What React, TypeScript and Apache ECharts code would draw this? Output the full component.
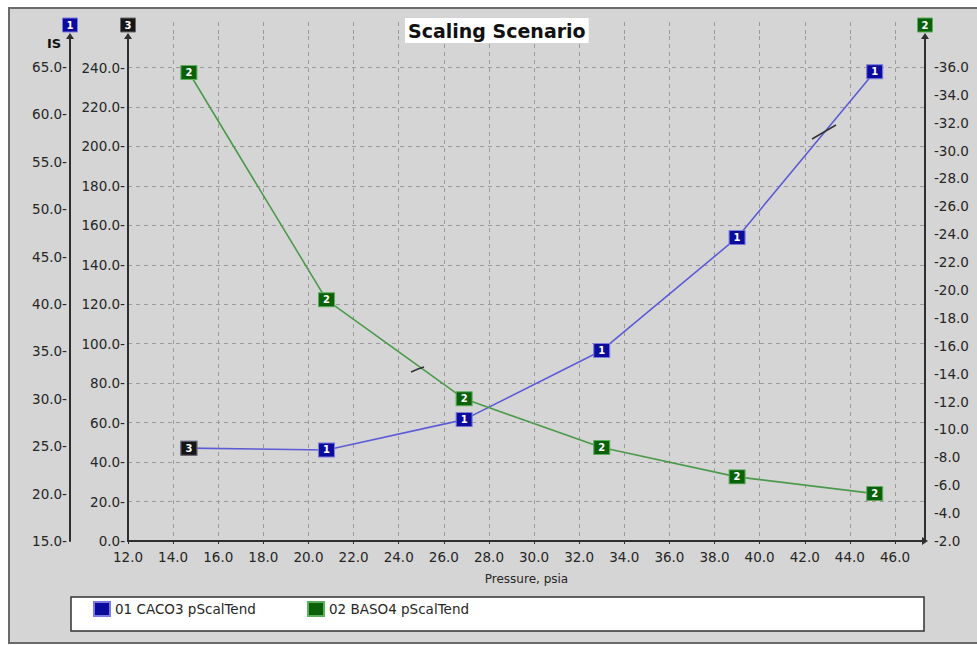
import React, { useEffect, useRef } from "react";
import * as echarts from "echarts";

// Pressure sweep (psia) shared by both scaling curves
const pressure = [14.7, 20.8, 26.9, 33.0, 39.0, 45.1];
// 01 CACO3 pScalTend, read on the "IS" axis (axis 1)
const caco3Tend = [24.8, 24.6, 27.8, 35.1, 47.0, 64.5];
// 02 BASO4 pScalTend, read on the right axis (axis 2)
const baso4Tend = [35.6, 19.3, 12.2, 8.7, 6.6, 5.4];
// Single point shown on axis 3
const axis3Pressure = [14.7];
const axis3Values = [47.0];

const seriesNames = ["01 CACO3 pScalTend", "02 BASO4 pScalTend"];
const chartTitle = "Scaling Scenario";
const xTitle = "Pressure, psia";
const isAxisTitle = "IS";

// Axis ranges: min, tick interval, last labelled tick and top of the drawn axis
const xRange = { min: 12, interval: 2, lastTick: 46, max: 47.33 };
const axis3Range = { min: 0, interval: 20, lastTick: 240, max: 256 };
const axis1Range = { min: 15, interval: 5, lastTick: 65, max: 68.27 };
const axis2Range = { min: 2, interval: 2, lastTick: 36, max: 38.22 };

const FONT = "DejaVu Sans";
const TEXT = "#262626";
const LABEL_SIZE = 13.5;
const BLUE_LINE = "#5c5cd6";
const BLUE_MARK = "#0b0b9e";
const GREEN_LINE = "#4c9a4c";
const GREEN_MARK = "#0a610a";
const DARK_MARK = "#151515";
const AXIS_COLOR = "#2e2e2e";
const GRID_DASH = { type: [4, 4] as number[], color: "#9a9a9a", width: 1 };

const fmt1 = (v: number) => v.toFixed(1);

function markerLabel(text: string) {
  return {
    show: true,
    position: "inside",
    formatter: text,
    color: "#ffffff",
    fontSize: 10,
    fontWeight: "bold",
    fontFamily: FONT,
  };
}

function axisTag(cx: number, text: string, fill: string, stroke: string) {
  return {
    type: "group",
    z: 10,
    children: [
      {
        type: "rect",
        shape: { x: cx - 7.5, y: 18, width: 15, height: 14 },
        style: { fill, stroke, lineWidth: 1 },
      },
      {
        type: "text",
        x: cx,
        y: 25,
        style: {
          text,
          fill: "#ffffff",
          font: `bold 10px '${FONT}'`,
          align: "center",
          verticalAlign: "middle",
        },
      },
    ],
  };
}

function valueLabel(margin: number, lastTick: number, side: "left" | "right") {
  return {
    margin,
    fontFamily: FONT,
    fontSize: LABEL_SIZE,
    color: TEXT,
    showMaxLabel: false,
    formatter: (v: number) => {
      if (v > lastTick + 1e-6) return "";
      return side === "left" ? `${fmt1(v)}-` : `-${fmt1(v)}`;
    },
  };
}

function legendFor(name: string, left: number) {
  return {
    data: [name],
    left,
    top: 601,
    padding: 0,
    icon: "rect",
    itemWidth: 16,
    itemHeight: 14,
    selectedMode: false,
    textStyle: { fontFamily: FONT, fontSize: 13.5, color: TEXT },
  };
}

function buildOption() {
  const axisLine = {
    show: true,
    onZero: false,
    symbol: ["none", "triangle"],
    symbolSize: [8, 6],
    lineStyle: { color: AXIS_COLOR, width: 2 },
  };

  return {
    animation: false,
    backgroundColor: "transparent",
    title: {
      text: chartTitle,
      left: 405,
      top: 18,
      padding: [3, 3, 3, 3],
      backgroundColor: "#ffffff",
      textStyle: { fontFamily: FONT, fontSize: 19, fontWeight: "bold", color: "#111111" },
    },
    legend: [legendFor(seriesNames[0], 93), legendFor(seriesNames[1], 307)],
    grid: [
      { left: 128, right: 52, top: 36, bottom: 104 },
      { left: 128, right: 52, top: 22, height: 14 },
    ],
    xAxis: [
      {
        type: "value",
        gridIndex: 0,
        min: xRange.min,
        max: xRange.max,
        interval: xRange.interval,
        name: xTitle,
        nameLocation: "middle",
        nameGap: 32,
        nameTextStyle: { fontFamily: FONT, fontSize: 12, color: TEXT },
        axisLine,
        axisTick: { show: true, length: 3, lineStyle: { color: AXIS_COLOR } },
        axisLabel: {
          margin: 9,
          fontFamily: FONT,
          fontSize: LABEL_SIZE,
          color: TEXT,
          showMaxLabel: false,
          formatter: (v: number) => (v > xRange.lastTick + 1e-6 ? "" : fmt1(v)),
        },
        splitLine: { show: true, showMinLine: false, showMaxLine: false, lineStyle: GRID_DASH },
      },
      {
        type: "value",
        gridIndex: 1,
        min: xRange.min,
        max: xRange.max,
        interval: xRange.interval,
        axisLine: { show: false },
        axisTick: { show: false },
        axisLabel: { show: false },
        splitLine: { show: true, showMinLine: false, showMaxLine: false, lineStyle: GRID_DASH },
      },
    ],
    yAxis: [
      {
        type: "value",
        gridIndex: 0,
        position: "left",
        offset: 0,
        min: axis3Range.min,
        max: axis3Range.max,
        interval: axis3Range.interval,
        axisLine,
        axisTick: { show: false },
        axisLabel: valueLabel(3, axis3Range.lastTick, "left"),
        splitLine: { show: true, showMinLine: false, showMaxLine: false, lineStyle: GRID_DASH },
      },
      {
        type: "value",
        gridIndex: 0,
        position: "left",
        offset: 58,
        min: axis1Range.min,
        max: axis1Range.max,
        interval: axis1Range.interval,
        axisLine,
        axisTick: { show: false },
        axisLabel: valueLabel(3, axis1Range.lastTick, "left"),
        splitLine: { show: false },
      },
      {
        type: "value",
        gridIndex: 0,
        position: "right",
        offset: 0,
        min: axis2Range.min,
        max: axis2Range.max,
        interval: axis2Range.interval,
        axisLine,
        axisTick: { show: false },
        axisLabel: valueLabel(9, axis2Range.lastTick, "right"),
        splitLine: { show: false },
      },
      { type: "value", gridIndex: 1, min: 0, max: 1, show: false },
    ],
    series: [
      {
        name: seriesNames[0],
        type: "line",
        xAxisIndex: 0,
        yAxisIndex: 1,
        data: pressure.map((p, i) => [p, caco3Tend[i]]),
        symbol: "rect",
        symbolSize: [16, 14],
        lineStyle: { color: BLUE_LINE, width: 1.6 },
        itemStyle: { color: BLUE_MARK, borderColor: "#7c7ce0", borderWidth: 1 },
        label: markerLabel("1"),
        z: 3,
      },
      {
        name: seriesNames[1],
        type: "line",
        xAxisIndex: 0,
        yAxisIndex: 2,
        data: pressure.map((p, i) => [p, baso4Tend[i]]),
        symbol: "rect",
        symbolSize: [16, 14],
        lineStyle: { color: GREEN_LINE, width: 1.6 },
        itemStyle: { color: GREEN_MARK, borderColor: "#5fae5f", borderWidth: 1 },
        label: markerLabel("2"),
        z: 3,
      },
      {
        name: "03",
        type: "line",
        xAxisIndex: 0,
        yAxisIndex: 0,
        data: axis3Pressure.map((p, i) => [p, axis3Values[i]]),
        symbol: "rect",
        symbolSize: [16, 14],
        itemStyle: { color: DARK_MARK, borderColor: "#6a6a6a", borderWidth: 1 },
        label: markerLabel("3"),
        z: 4,
      },
    ],
    graphic: [
      {
        type: "rect",
        z: -5,
        shape: { x: 71, y: 597, width: 853, height: 34 },
        style: { fill: "#ffffff", stroke: "#333333", lineWidth: 1.5 },
      },
      axisTag(70, "1", BLUE_MARK, "#7c7ce0"),
      axisTag(128, "3", DARK_MARK, "#6a6a6a"),
      axisTag(925, "2", GREEN_MARK, "#5fae5f"),
      {
        type: "text",
        z: 10,
        x: 54,
        y: 43,
        style: {
          text: isAxisTitle,
          fill: "#111111",
          font: `bold 13px '${FONT}'`,
          align: "center",
          verticalAlign: "middle",
        },
      },
      {
        type: "polyline",
        z: 10,
        shape: { points: [[411, 372], [418, 369], [424, 367]] },
        style: { stroke: "#333333", lineWidth: 1.5, fill: "none" },
      },
      {
        type: "polyline",
        z: 10,
        shape: { points: [[812, 139], [824, 132], [836, 125]] },
        style: { stroke: "#333333", lineWidth: 1.5, fill: "none" },
      },
    ],
  };
}

export default function App() {
  const ref = useRef<HTMLDivElement>(null);

  useEffect(() => {
    if (!ref.current) return;
    const chart = echarts.init(ref.current, undefined, { renderer: "svg" });
    chart.setOption(buildOption() as any);
    return () => chart.dispose();
  }, []);

  return (
    <div
      style={{
        position: "fixed",
        left: 0,
        top: 0,
        width: 977,
        height: 645,
        background: "#ffffff",
        overflow: "hidden",
      }}
    >
      <div
        style={{
          position: "absolute",
          left: 8,
          top: 7,
          width: 990,
          height: 637,
          boxSizing: "border-box",
          border: "2px solid #6a6a6a",
          background: "#d5d5d5",
        }}
      />
      <div ref={ref} style={{ position: "absolute", left: 0, top: 0, width: 977, height: 645 }} />
    </div>
  );
}
